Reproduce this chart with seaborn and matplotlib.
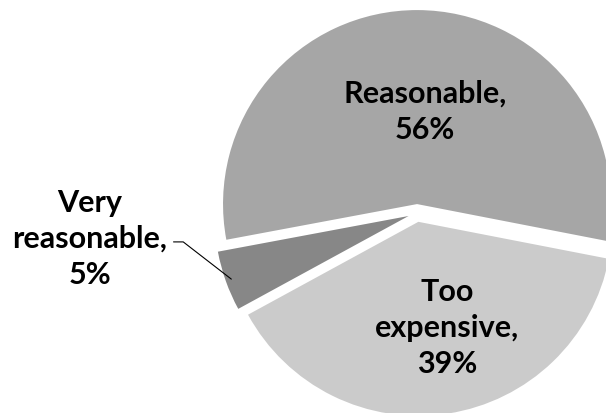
import numpy as np
import matplotlib
matplotlib.use("Agg")
import matplotlib.pyplot as plt
import seaborn as sns

# data
categories = ["Reasonable", "Very reasonable", "Too expensive"]
shares = [56, 5, 39]
label_texts = ["Reasonable,\n56%", "Very\nreasonable,\n5%", "Too\nexpensive,\n39%"]
slice_colors = ["#a6a6a6", "#878787", "#cbcbcb"]

sns.set_theme(style="white")
plt.rcParams["font.family"] = ["Lato", "DejaVu Sans"]

fig = plt.figure(figsize=(6.06, 4.14), dpi=100)
ax = fig.add_axes([0, 0, 1, 1])

wedges, _ = ax.pie(shares, colors=slice_colors, startangle=-11, counterclock=True,
                   explode=[0.046] * len(shares), radius=1.0,
                   wedgeprops=dict(linewidth=0))

# pixel-matched view: centre at (417, 214) px, radius 194 px
ax.set_xlim(-417 / 194, (606 - 417) / 194)
ax.set_ylim(-(414 - 214) / 194, 214 / 194)
ax.set_aspect("equal", adjustable="datalim")
ax.axis("off")

txt = dict(fontsize=22, fontweight="bold", ha="center", va="center",
           color="black", linespacing=1.36)
ax.text(0.041, 0.526, label_texts[0], **txt)
ax.text(-1.686, -0.129, label_texts[1], **txt)
ax.text(0.155, -0.588, label_texts[2], **txt)

# leader line for the small slice
w = wedges[1]
mid = np.deg2rad((w.theta1 + w.theta2) / 2)
cx, cy = w.center
ex = cx + 0.97 * np.cos(mid)
ey = cy + 0.97 * np.sin(mid)
ax.plot([-1.255, -1.205, ex], [-0.149, -0.149, ey], color="black", lw=0.8)

fig.savefig("out.png", dpi=100)
